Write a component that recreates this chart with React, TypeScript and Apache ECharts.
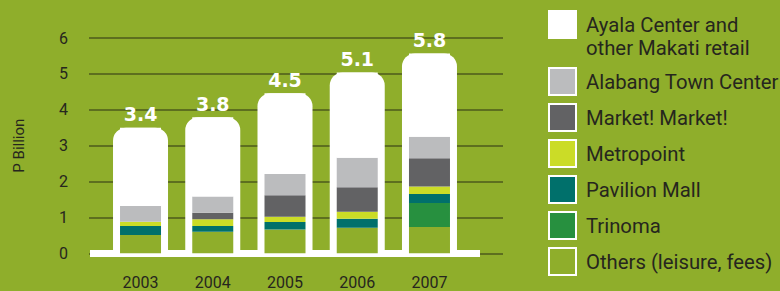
import React, { useEffect, useRef } from "react";
import * as echarts from "echarts";

// ---- data (P Billion) ----
const years = ["2003", "2004", "2005", "2006", "2007"];
const others = [0.51, 0.6, 0.66, 0.71, 0.73];
const trinoma = [0, 0, 0, 0, 0.67];
const pavilion = [0.25, 0.16, 0.21, 0.25, 0.25];
const metropoint = [0.12, 0.19, 0.15, 0.2, 0.21];
const marketMarket = [0, 0.18, 0.6, 0.68, 0.79];
const alabang = [0.44, 0.45, 0.59, 0.82, 0.6];
const ayala = [2.18, 2.21, 2.25, 2.38, 2.32];
const totalLabels = ["3.4", "3.8", "4.5", "5.1", "5.8"];

const AYALA = "Ayala Center and other Makati retail";
const seriesDefs = [
  { name: "Others (leisure, fees)", data: others, color: "#8fae2b" },
  { name: "Trinoma", data: trinoma, color: "#27903f" },
  { name: "Pavilion Mall", data: pavilion, color: "#00706b" },
  { name: "Metropoint", data: metropoint, color: "#cbdc27" },
  { name: "Market! Market!", data: marketMarket, color: "#626264" },
  { name: "Alabang Town Center", data: alabang, color: "#bbbcbe" },
  { name: AYALA, data: ayala, color: "#ffffff" },
];

const BG = "#8fae2b";
const TEXT = "#26261e";
const GRID_LINE = "#4d5a1c";

export default function App() {
  const ref = useRef<HTMLDivElement>(null);

  useEffect(() => {
    if (!ref.current) return;
    const chart = echarts.init(ref.current, undefined, { renderer: "svg" });

    const totals = years.map((_, i) =>
      seriesDefs.reduce((s, d) => s + d.data[i], 0)
    );

    const top = 38;
    const bottom = 37.7;

    const legendText = {
      fontFamily: "Roboto",
      fontSize: 20.3,
      color: TEXT,
      padding: [0, 0, 0, 5],
    };

    const option: any = {
      animation: false,
      backgroundColor: BG,
      grid: [
        { left: 89, right: 277, top, bottom },
        { left: 104.4, right: 314.4, top, bottom },
        { left: 90, right: 300, top, bottom },
      ],
      xAxis: [
        { gridIndex: 0, type: "value", min: 0, max: 1, show: false },
        {
          gridIndex: 1,
          type: "category",
          data: years,
          axisLine: { show: false },
          axisTick: { show: false },
          axisLabel: {
            margin: 21,
            fontFamily: "Roboto",
            fontSize: 16,
            color: TEXT,
          },
        },
        { gridIndex: 1, type: "category", data: years, show: false },
        { gridIndex: 2, type: "value", min: 0, max: 1, show: false },
      ],
      yAxis: [
        {
          gridIndex: 0,
          type: "value",
          min: 0,
          max: 6,
          interval: 1,
          axisLine: { show: false },
          axisTick: { show: false },
          axisLabel: {
            margin: 21,
            fontFamily: "Roboto",
            fontSize: 16,
            color: TEXT,
          },
          splitLine: { lineStyle: { color: GRID_LINE, width: 1.5 } },
          name: "P Billion",
          nameLocation: "middle",
          nameGap: 63,
          nameTextStyle: { fontFamily: "Roboto", fontSize: 15, color: TEXT },
        },
        { gridIndex: 1, type: "value", min: 0, max: 6, show: false },
        { gridIndex: 2, type: "value", min: 0, max: 6, show: false },
      ],
      legend: [
        {
          data: [AYALA],
          orient: "vertical",
          left: 548,
          top: -10,
          padding: 0,
          itemWidth: 27,
          itemHeight: 27,
          icon: "rect",
          selectedMode: false,
          formatter: () => "\nAyala Center and\nother Makati retail",
          itemStyle: { borderColor: "#ffffff", borderWidth: 2 },
          textStyle: { ...legendText, lineHeight: 23 },
        },
        {
          data: seriesDefs
            .filter((d) => d.name !== AYALA)
            .map((d) => d.name)
            .reverse(),
          orient: "vertical",
          left: 548,
          top: 67,
          padding: 0,
          itemGap: 7,
          itemWidth: 27,
          itemHeight: 27,
          icon: "rect",
          selectedMode: false,
          itemStyle: { borderColor: "#ffffff", borderWidth: 2 },
          textStyle: legendText,
        },
      ],
      series: [
        {
          type: "line",
          name: "baseline",
          xAxisIndex: 3,
          yAxisIndex: 2,
          data: [],
          silent: true,
          z: 1,
          markLine: {
            z: 1,
            silent: true,
            symbol: "none",
            label: { show: false },
            lineStyle: { color: "#ffffff", width: 7, type: "solid" },
            data: [{ yAxis: 0 }],
          },
        },
        {
          type: "bar",
          name: "outline",
          xAxisIndex: 2,
          yAxisIndex: 1,
          data: totals,
          barWidth: 55,
          z: 1,
          itemStyle: { color: "#ffffff", borderRadius: [13, 13, 0, 0] },
          label: {
            show: true,
            position: "top",
            distance: 4,
            formatter: (p: any) => totalLabels[p.dataIndex],
            color: "#ffffff",
            fontFamily: "DejaVu Sans",
            fontWeight: "bold",
            fontSize: 19,
          },
        },
        ...seriesDefs.map((d) => ({
          type: "bar",
          name: d.name,
          xAxisIndex: 1,
          yAxisIndex: 1,
          stack: "total",
          barWidth: 41,
          z: 3,
          data: d.data,
          itemStyle: { color: d.color },
        })),
      ],
    };

    chart.setOption(option);
    return () => chart.dispose();
  }, []);

  return (
    <div
      ref={ref}
      style={{ position: "absolute", left: 0, top: 0, width: 780, height: 291 }}
    />
  );
}
